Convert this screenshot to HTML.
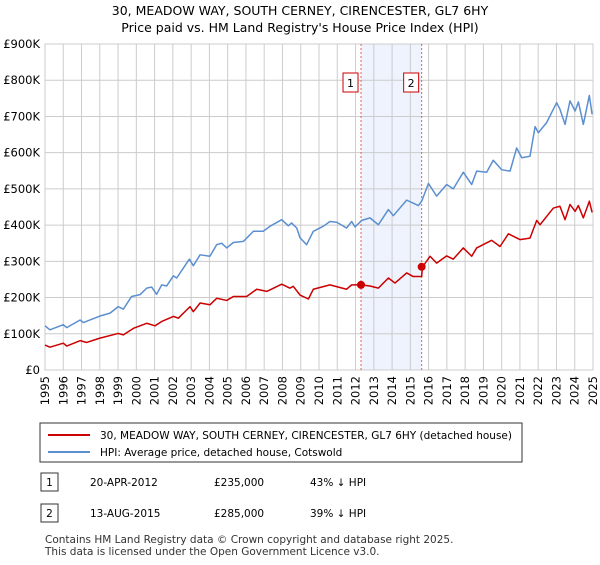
<!DOCTYPE html>
<html><head><meta charset="utf-8"><style>
body{margin:0;background:#fff;font-family:"Liberation Sans","DejaVu Sans",sans-serif;}
svg text{font-family:"DejaVu Sans","Liberation Sans",sans-serif;}
</style></head><body>
<svg id="c" width="600" height="560" xmlns="http://www.w3.org/2000/svg">
<text x="300" y="15" text-anchor="middle" font-size="12.5">30, MEADOW WAY, SOUTH CERNEY, CIRENCESTER, GL7 6HY</text>
<text x="300" y="32" text-anchor="middle" font-size="12.5">Price paid vs. HM Land Registry's House Price Index (HPI)</text>
<g id="plot"></g>
<g>
<rect x="40" y="423" width="482" height="39" fill="#fff" stroke="#333" stroke-width="1"/>
<line x1="48" y1="435" x2="90" y2="435" stroke="#cc0000" stroke-width="2"/>
<text x="100" y="439" font-size="10.5">30, MEADOW WAY, SOUTH CERNEY, CIRENCESTER, GL7 6HY (detached house)</text>
<line x1="48" y1="452" x2="90" y2="452" stroke="#5b8fd0" stroke-width="2"/>
<text x="100" y="456" font-size="10.5">HPI: Average price, detached house, Cotswold</text>
</g>
<g font-size="10.5">
<rect x="41" y="473" width="17" height="18" fill="#fff" stroke="#333"/><text x="49.5" y="486" text-anchor="middle">1</text>
<text x="90" y="486">20-APR-2012</text><text x="214" y="486">£235,000</text><text x="310" y="486">43% ↓ HPI</text>
<rect x="41" y="504" width="17" height="18" fill="#fff" stroke="#333"/><text x="49.5" y="517" text-anchor="middle">2</text>
<text x="90" y="517">13-AUG-2015</text><text x="214" y="517">£285,000</text><text x="310" y="517">39% ↓ HPI</text>
</g>
<text x="45" y="543" font-size="10.5" fill="#333">Contains HM Land Registry data © Crown copyright and database right 2025.</text>
<text x="45" y="555" font-size="10.5" fill="#333">This data is licensed under the Open Government Licence v3.0.</text>
</svg>
<script>
const hpiYears=[1995.0,1995.27,1996.0,1996.19,1996.92,1997.1,1998.01,1998.56,1999.01,1999.29,1999.74,2000.2,2000.57,2000.84,2001.11,2001.39,2001.66,2002.03,2002.21,2002.57,2002.9,2003.12,2003.49,2004.03,2004.4,2004.67,2004.95,2005.31,2005.86,2006.41,2006.95,2007.32,2007.96,2008.32,2008.5,2008.78,2008.96,2009.32,2009.69,2010.24,2010.6,2010.97,2011.51,2011.79,2011.97,2012.34,2012.79,2013.25,2013.8,2014.07,2014.8,2015.44,2015.62,2015.99,2016.44,2016.99,2017.35,2017.9,2018.36,2018.63,2019.18,2019.54,2020.0,2020.46,2020.82,2021.1,2021.55,2021.83,2022.01,2022.46,2023.01,2023.19,2023.47,2023.74,2024.02,2024.2,2024.47,2024.8,2024.95];
const hpiValues=[122,111,125,117,138,131,149,157,175,168,203,208,226,229,209,235,232,260,254,281,306,288,318,314,346,350,337,352,355,383,383,397,415,398,406,392,365,346,383,397,410,408,392,410,395,413,420,401,443,426,469,454,466,515,480,512,500,546,512,549,546,579,553,549,613,586,590,672,655,683,738,720,678,743,715,740,678,758,706];
const ppYears=[1995.0,1995.27,1996.0,1996.19,1996.92,1997.28,1998.01,1999.01,1999.29,1999.84,2000.57,2001.02,2001.39,2002.03,2002.3,2002.94,2003.12,2003.49,2004.03,2004.4,2004.95,2005.31,2006.04,2006.59,2007.14,2007.96,2008.41,2008.59,2008.96,2009.42,2009.69,2010.6,2011.51,2011.79,2012.32,2012.79,2013.25,2013.8,2014.16,2014.8,2015.16,2015.62,2015.66,2016.08,2016.44,2016.99,2017.35,2017.9,2018.36,2018.63,2019.45,2019.91,2020.37,2021.0,2021.55,2021.92,2022.1,2022.83,2023.19,2023.47,2023.74,2024.02,2024.2,2024.47,2024.8,2024.95];
const ppValues=[69,63,74,66,81,76,88,101,97,115,129,122,134,148,143,175,161,185,180,198,192,203,203,223,217,237,226,231,207,196,223,235,223,235,235,232,226,254,240,268,258,258,284,314,295,315,306,337,314,337,358,341,376,360,364,413,401,447,452,415,457,438,454,420,466,435];
const sales=[{n:"1",y:2012.3,v:235},{n:"2",y:2015.62,v:285}];
const yTicks=[0,100,200,300,400,500,600,700,800,900];
const yTickLabels=["£0","£100K","£200K","£300K","£400K","£500K","£600K","£700K","£800K","£900K"];
const xTicks=[1995,1996,1997,1998,1999,2000,2001,2002,2003,2004,2005,2006,2007,2008,2009,2010,2011,2012,2013,2014,2015,2016,2017,2018,2019,2020,2021,2022,2023,2024,2025];

const L=45,R=593,T=44,B=370;
const X=y=>L+(y-1995)/30*(R-L);
const Y=v=>B-v/900*(B-T);
const NS="http://www.w3.org/2000/svg";
const g=document.getElementById('plot');
function mk(t,a,p){const e=document.createElementNS(NS,t);for(const k in a)e.setAttribute(k,a[k]);(p||g).appendChild(e);return e;}
const sh=mk('rect',{x:X(sales[0].y),y:T,width:X(sales[1].y)-X(sales[0].y),height:B-T,fill:'#eef3fd'});


yTicks.forEach((v,i)=>{
 const l=mk('line',{x1:L,x2:R,y1:Y(v),y2:Y(v),stroke:'#cccccc','stroke-width':1});
 
 
 const t=mk('text',{x:40,y:Y(v)+4,'text-anchor':'end','font-size':11.5});
 
 
 t.textContent=yTickLabels[i];
});
xTicks.forEach(yr=>{
 const l=mk('line',{x1:X(yr),x2:X(yr),y1:T,y2:B,stroke:'#cccccc','stroke-width':1});
 
 
 const tx=X(yr)+4, ty=376;
 const t=mk('text',{x:tx,y:ty,'text-anchor':'end','font-size':11.5,transform:'rotate(-90 '+tx+' '+ty+')'});
 
 
 t.textContent=yr;
});
const fr=mk('rect',{x:L,y:T,width:R-L,height:B-T,fill:'none',stroke:'#cccccc'});


sales.forEach(s=>{
 const l=mk('line',{x1:X(s.y),x2:X(s.y),y1:T,y2:B,stroke:'#e06060','stroke-dasharray':'2,2','stroke-width':1});
 
 
 const r=mk('rect',{x:X(s.y)-18,y:73,width:15,height:19,fill:'#fff',stroke:'#cc0000'});
 
 
 const t=mk('text',{x:X(s.y)-10.5,y:87,'text-anchor':'middle','font-size':11});
 
 
 t.textContent=s.n;
});
function line(xs,vs,col,name){
 const p=mk('polyline',{points:xs.map((x,i)=>X(x)+','+Y(vs[i])).join(' '),fill:'none',stroke:col,'stroke-width':1.5,'stroke-linejoin':'round'});
 
 
}
line(hpiYears,hpiValues,'#5b8fd0','hpi-line');
line(ppYears,ppValues,'#cc0000','price-paid-line');
sales.forEach(s=>{
 const c=mk('circle',{cx:X(s.y),cy:Y(s.v),r:4,fill:'#cc0000'});
 
 
});
</script>
</body></html>
